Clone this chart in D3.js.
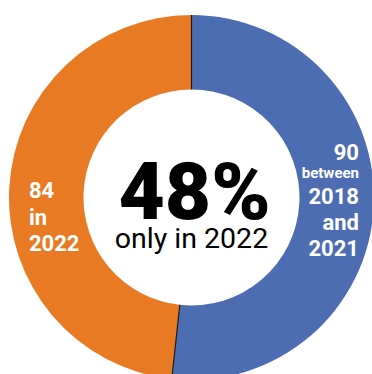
<!DOCTYPE html>
<html>
<head>
<meta charset="utf-8">
<script src="https://cdn.jsdelivr.net/npm/d3@7"></script>
<style>
  html, body { margin: 0; padding: 0; background: #fff; overflow: hidden; }
  svg text { font-family: Roboto, "Noto Sans", sans-serif; }
</style>
</head>
<body>
<svg id="chart" width="372" height="374"></svg>
<script>
"use strict";

// donut data: reports between 2018-2021 vs only in 2022
const categories = ["between 2018 and 2021", "only in 2022"];
const values = [90, 84];
const colours = ["#4d6db2", "#e87a23"];
const sliceLabels = [
  ["90", "between", "2018", "and", "2021"],
  ["84", "in", "2022"]
];
const centreValue = "48%";
const centreText = "only in 2022";

const svg = d3.select("#chart"),
      cx = 191.5,
      cy = 197.5,
      outerR = 182.5,
      innerR = 108,
      g = svg.append("g").attr("transform", `translate(${cx},${cy})`);

const pie = d3.pie().sort(null).value(d => d);
const arcs = pie(values);
const arc = d3.arc().innerRadius(innerR).outerRadius(outerR);

g.selectAll("path.slice")
  .data(arcs)
  .enter()
  .append("path")
  .attr("class", "slice")
  .attr("d", arc)
  .style("fill", (d, i) => colours[i]);

// thin dark lines on the slice boundaries
g.selectAll("line.edge")
  .data(arcs)
  .enter()
  .append("line")
  .attr("class", "edge")
  .attr("x1", d => innerR * Math.sin(d.startAngle))
  .attr("y1", d => -innerR * Math.cos(d.startAngle))
  .attr("x2", d => outerR * Math.sin(d.startAngle))
  .attr("y2", d => -outerR * Math.cos(d.startAngle))
  .style("stroke", "#1b1b1b")
  .style("stroke-width", 1.2);

// slice labels - right side blue, left side orange
const rightX = 359 - cx, leftX = 29 - cx;
const rightLines = [
  {y: 160, size: 22}, {y: 178, size: 15}, {y: 204, size: 22},
  {y: 230, size: 22}, {y: 256, size: 22}
];
const leftLines = [{y: 198, size: 22}, {y: 224.5, size: 22}, {y: 251, size: 22}];

sliceLabels[0].forEach((t, i) => {
  g.append("text")
    .attr("x", rightX)
    .attr("y", rightLines[i].y - cy)
    .attr("text-anchor", "end")
    .style("font-size", rightLines[i].size + "px")
    .style("font-weight", "700")
    .style("fill", "#fff")
    .text(t);
});

sliceLabels[1].forEach((t, i) => {
  g.append("text")
    .attr("x", leftX)
    .attr("y", leftLines[i].y - cy)
    .attr("text-anchor", "start")
    .style("font-size", leftLines[i].size + "px")
    .style("font-weight", "700")
    .style("fill", "#fff")
    .text(t);
});

// centre text
g.append("text")
  .attr("x", 3)
  .attr("y", 219 - cy)
  .attr("text-anchor", "middle")
  .style("font-size", "80px")
  .style("font-weight", "900")
  .style("fill", "#000")
  .text(centreValue);

g.append("text")
  .attr("x", 0)
  .attr("y", 248 - cy)
  .attr("text-anchor", "middle")
  .style("font-size", "28.5px")
  .style("fill", "#000")
  .text(centreText);
</script>
</body>
</html>
